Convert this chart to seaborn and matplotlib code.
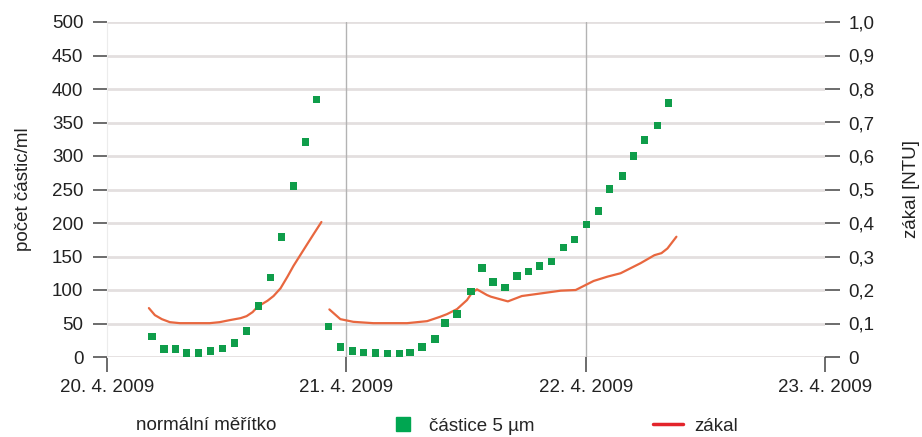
import pandas as pd
import numpy as np
import matplotlib
matplotlib.use('Agg')
import matplotlib.pyplot as plt
from matplotlib.lines import Line2D
import seaborn as sns

sns.set_style('white')
plt.rcParams['font.family'] = ['Liberation Sans', 'DejaVu Sans']

# Data: hours since 20. 4. 2009 00:00
count_hours = [4.5, 5.7, 6.9, 8.0, 9.2, 10.4, 11.6, 12.8, 14.0, 15.2, 16.4, 17.5, 18.7, 19.9, 21.0,
               22.2, 23.4, 24.6, 25.7, 26.9, 28.1, 29.3, 30.4, 31.6, 32.9, 33.9, 35.1, 36.5, 37.6,
               38.7, 39.9, 41.1, 42.3, 43.4, 44.6, 45.8, 46.9, 48.1, 49.3, 50.4, 51.7, 52.8, 53.9,
               55.2, 56.3]
count_values = [31, 12, 12, 6, 6, 9, 13, 21, 39, 76, 119, 179, 255, 321, 384,
                46, 15, 9, 7, 6, 5, 5, 7, 15, 27, 51, 64, 98, 133,
                112, 104, 121, 128, 136, 143, 163, 175, 198, 218, 251, 270, 300, 324,
                346, 379]

turb1_hours = [4.2, 4.8, 5.5, 6.3, 7.3, 8.8, 10.3, 11.3, 12.3, 13.4, 14.0, 14.6, 15.1, 16.1,
               16.7, 17.4, 18.1, 18.7, 19.4, 20.1, 20.7, 21.5]
turb1_values = [0.146, 0.125, 0.113, 0.104, 0.101, 0.101, 0.101, 0.104, 0.110, 0.116, 0.122,
                0.134, 0.150, 0.168, 0.182, 0.205, 0.240, 0.272, 0.305, 0.338, 0.366, 0.403]
turb2_hours = [22.3, 23.4, 24.7, 26.7, 30.1, 32.1, 33.4, 34.1, 35.1, 36.1, 36.6, 37.1, 38.1,
               38.5, 40.2, 41.6, 43.8, 45.5, 47.0, 48.0, 48.8, 50.2, 51.5, 52.5, 53.5, 54.9,
               55.6, 56.2, 57.1]
turb2_values = [0.142, 0.113, 0.105, 0.101, 0.101, 0.107, 0.120, 0.128, 0.143, 0.170, 0.192,
                0.202, 0.185, 0.180, 0.166, 0.182, 0.191, 0.198, 0.200, 0.215, 0.227, 0.240,
                0.250, 0.265, 0.280, 0.304, 0.310, 0.324, 0.359]

date_ticks = ['2009-04-20', '2009-04-21', '2009-04-22', '2009-04-23']

base = pd.Timestamp('2009-04-20')
counts = pd.DataFrame({'time': base + pd.to_timedelta(count_hours, unit='h'),
                       'count': count_values})
turb = pd.concat([
    pd.DataFrame({'time': base + pd.to_timedelta(turb1_hours, unit='h'),
                  'ntu': turb1_values, 'seg': 1}),
    pd.DataFrame({'time': base + pd.to_timedelta(turb2_hours, unit='h'),
                  'ntu': turb2_values, 'seg': 2}),
])

green = '#0f9d4a'
orange = '#e8673f'
fs = 13.5

fig = plt.figure(figsize=(9.22, 4.37), dpi=100)
ax = fig.add_axes([107 / 922, 1 - 357 / 437, 718 / 922, 335 / 437])
ax2 = ax.twinx()

sns.lineplot(data=turb, x='time', y='ntu', units='seg', estimator=None,
             color=orange, lw=1.6, ax=ax2, legend=False)
sns.scatterplot(data=counts, x='time', y='count', marker='s', s=28,
                color=green, edgecolor='none', ax=ax, legend=False, zorder=3)

# scatter above line
ax.set_zorder(ax2.get_zorder() + 1)
ax.patch.set_visible(False)

ticks = pd.to_datetime(date_ticks)
ax.set_xlim(ticks[0], ticks[-1])
ax.set_xticks(ticks)
ax.set_xticklabels([f'{d.day}. {d.month}. {d.year}' for d in ticks])
ax.set_ylim(0, 500)
ax.set_yticks(range(0, 501, 50))
ax2.set_ylim(0, 1.0)
ax2.set_yticks(np.arange(0, 1.01, 0.1))
ax2.set_yticklabels(['0'] + [f'{v:.1f}'.replace('.', ',') for v in np.arange(0.1, 1.01, 0.1)])

# grid
for v in range(0, 501, 50):
    ax2.axhline(v / 500, color='#e3dfdf', lw=2.0, zorder=0)
for d in ticks[1:3]:
    ax2.axvline(d, color='#b3b3b3', lw=1.0, zorder=0)

for a in (ax, ax2):
    for s in a.spines.values():
        s.set_visible(False)
ax.spines['left'].set_visible(True)
ax.spines['left'].set_color('#ececec')

ax.tick_params(axis='y', length=10, width=1.1, color='#444444', pad=7,
               labelsize=fs, labelcolor='#222222', left=True)
ax.tick_params(axis='x', length=11, width=1.1, color='#444444', pad=5,
               labelsize=fs, labelcolor='#222222', bottom=True)
ax2.tick_params(axis='y', length=11, width=1.1, color='#444444', pad=6,
                labelsize=fs, labelcolor='#222222', right=True)

ax.set_xlabel('')
ax.set_ylabel('počet částic/ml', fontsize=fs, color='#222222', labelpad=14)
ax2.set_ylabel('zákal [NTU]', fontsize=fs, color='#222222', rotation=90, labelpad=20)

# legend row
fig.text(136 / 922, 1 - 426 / 437, 'normální měřítko', fontsize=fs, color='#222222',
         va='center', ha='left')
handles = [Line2D([], [], marker='s', ls='none', color='#00a651', markersize=10),
           Line2D([], [], color='#e3242b', lw=2.5)]
fig.legend(handles, ['částice 5 µm', 'zákal'], ncol=2, frameon=False,
           loc='center left', bbox_to_anchor=(388 / 922, 1 - 426 / 437),
           fontsize=fs, handlelength=1.6, handletextpad=0.6, columnspacing=6.3,
           borderaxespad=0, borderpad=0)

fig.savefig('out.png', dpi=100)
